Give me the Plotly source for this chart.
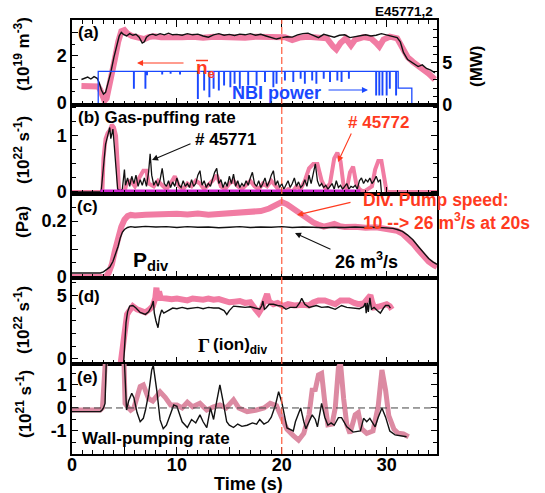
import plotly.graph_objects as go

W, H = 545, 493

# ---------------- (a) line-averaged density (1e19 m^-3) and NBI power (MW) ----------------
ne_45772 = [(0.9, 0.72), (1.3, 0.70), (1.7, 0.74), (2.1, 0.72), (2.5, 0.70), (2.7, 0.55), (2.9, 0.25),
            (3.1, 0.10), (3.3, 0.20), (3.5, 0.60), (3.8, 1.10), (4.1, 1.90), (4.4, 2.60), (4.7, 3.05),
            (5.0, 3.10), (5.3, 2.95), (5.7, 2.85), (6.1, 2.82), (6.5, 2.78), (6.9, 2.72), (7.3, 2.80),
            (7.8, 2.84), (8.5, 2.80), (9.5, 2.83), (10.5, 2.80), (11.5, 2.82), (12.5, 2.78), (13.5, 2.82),
            (14.5, 2.80), (15.5, 2.82), (16.5, 2.78), (17.5, 2.82), (18.5, 2.80), (19.5, 2.78),
            (20.3, 2.80), (21.0, 2.68), (21.7, 2.78), (22.5, 2.82), (23.5, 2.80), (24.3, 2.75),
            (24.9, 2.40), (25.2, 2.28), (25.6, 2.55), (26.1, 2.75), (26.6, 2.45), (27.0, 2.70),
            (27.8, 2.80), (28.5, 2.75), (29.0, 2.55), (29.3, 2.40), (29.7, 2.70), (30.3, 2.82),
            (31.0, 2.75), (31.5, 2.40), (32.0, 1.95), (32.5, 1.75), (33.0, 1.60), (33.5, 1.45),
            (34.0, 1.25), (34.6, 1.00)]
ne_45771 = [(0.9, 1.00), (1.2, 1.05), (1.5, 1.10), (1.8, 1.02), (2.1, 1.12), (2.4, 1.05), (2.6, 0.85),
            (2.8, 0.55), (3.0, 0.38), (3.2, 0.45), (3.4, 0.75), (3.7, 1.30), (4.0, 1.95), (4.3, 2.55),
            (4.5, 2.85), (4.7, 3.00), (4.9, 2.92), (5.2, 2.85), (5.5, 2.95), (5.8, 2.88), (6.1, 2.92),
            (6.4, 2.80), (6.7, 2.55), (6.9, 2.60), (7.1, 2.80), (7.4, 2.90), (7.7, 2.93), (8.0, 2.88),
            (8.4, 2.95), (8.8, 2.90), (9.2, 2.97), (9.6, 2.90), (10.0, 2.92), (10.5, 2.88), (11.0, 2.95),
            (11.5, 2.90), (12.0, 2.93), (12.5, 2.85), (13.0, 2.80), (13.5, 2.90), (14.0, 2.95),
            (14.5, 2.88), (15.0, 2.92), (15.5, 2.87), (16.0, 2.93), (16.5, 2.90), (17.0, 2.95),
            (17.5, 2.88), (18.0, 2.92), (18.5, 2.85), (19.0, 2.80), (19.5, 2.72), (20.0, 2.78),
            (20.5, 2.82), (21.0, 2.80), (21.5, 2.90), (22.0, 2.95), (22.5, 2.97), (23.0, 2.88),
            (23.5, 2.78), (24.0, 2.92), (24.5, 2.85), (25.0, 2.80), (25.5, 2.88), (26.0, 2.90),
            (26.5, 2.78), (27.0, 2.82), (27.5, 2.88), (28.0, 2.90), (28.5, 2.85), (29.0, 2.88),
            (29.5, 2.95), (30.0, 2.90), (30.5, 2.85), (31.0, 2.78), (31.3, 2.60), (31.6, 2.15),
            (32.0, 1.85), (32.5, 1.70), (33.0, 1.55), (33.4, 1.62), (33.8, 1.47), (34.2, 1.40),
            (34.6, 1.28)]

# NBI: full power, reduced power after the step, and short dropouts (time, MW)
nbi_full = 4.0
nbi_reduced = 2.0
nbi_on_t, nbi_step_t, nbi_off_t = 2.5, 31.1, 32.4
nbi_dropouts = [(5.9, 2.0), (7.0, 2.0), (7.15, 3.6), (8.6, 3.7), (9.4, 3.8), (10.3, 3.7),
                (12.0, 0.8), (12.6, 1.8), (13.1, 1.0), (13.5, 2.0), (14.0, 1.8), (14.5, 2.4),
                (15.1, 2.2), (15.5, 2.6), (16.0, 2.0), (16.8, 2.4), (17.6, 2.4), (18.4, 2.8),
                (19.2, 2.2), (19.5, 2.6), (20.3, 3.0), (21.1, 2.8), (21.8, 3.2), (22.2, 2.6),
                (22.9, 3.0), (23.3, 2.6), (24.0, 3.2), (24.6, 2.8), (25.3, 3.0), (25.7, 2.8),
                (26.4, 3.2), (29.0, 1.2), (29.3, 1.2), (29.6, 1.2), (30.0, 1.2), (30.3, 2.0),
                (30.9, 1.2)]

# ---------------- (b) gas-puffing rate (1e22 s^-1) ----------------
gas_45771 = [(0.0, 0.0), (2.7, 0.0), (2.8, 0.05), (3.0, 0.50), (3.2, 0.85), (3.4, 1.00), (3.6, 1.15),
             (3.7, 0.95), (3.8, 1.05), (3.9, 1.12), (4.0, 0.90), (4.2, 0.40), (4.35, 0.05), (4.6, 0.02),
             (4.8, 0.05), (5.0, 0.40), (5.1, 0.12), (5.3, 0.25), (5.5, 0.10), (5.7, 0.28), (5.9, 0.15),
             (6.1, 0.30), (6.3, 0.10), (6.5, 0.22), (6.7, 0.12), (6.9, 0.25), (7.1, 0.10), (7.3, 0.35),
             (7.45, 0.68), (7.6, 0.30), (7.8, 0.12), (8.0, 0.20), (8.2, 0.10), (8.4, 0.22), (8.6, 0.42),
             (8.8, 0.15), (9.0, 0.10), (9.2, 0.20), (9.4, 0.08), (9.6, 0.18), (9.8, 0.10), (10.0, 0.25),
             (10.2, 0.12), (10.4, 0.08), (10.6, 0.20), (10.8, 0.10), (11.0, 0.15), (11.2, 0.08),
             (11.4, 0.22), (11.6, 0.10), (11.8, 0.15), (12.0, 0.30), (12.2, 0.38), (12.4, 0.12),
             (12.6, 0.20), (12.8, 0.08), (13.0, 0.15), (13.2, 0.10), (13.4, 0.25), (13.6, 0.35),
             (13.8, 0.42), (14.0, 0.15), (14.2, 0.22), (14.4, 0.08), (14.6, 0.18), (14.8, 0.10),
             (15.0, 0.28), (15.2, 0.15), (15.4, 0.32), (15.6, 0.10), (15.8, 0.20), (16.0, 0.08),
             (16.2, 0.15), (16.4, 0.10), (16.6, 0.20), (16.8, 0.12), (17.0, 0.25), (17.2, 0.35),
             (17.4, 0.15), (17.6, 0.10), (17.8, 0.20), (18.0, 0.08), (18.2, 0.15), (18.4, 0.25),
             (18.6, 0.10), (18.8, 0.18), (19.0, 0.30), (19.2, 0.38), (19.4, 0.12), (19.6, 0.20),
             (19.8, 0.08), (20.0, 0.15), (20.2, 0.05), (20.4, 0.12), (20.6, 0.20), (20.8, 0.08),
             (21.0, 0.15), (21.2, 0.25), (21.4, 0.10), (21.6, 0.18), (21.8, 0.08), (22.0, 0.12),
             (22.2, 0.22), (22.4, 0.10), (22.6, 0.30), (22.8, 0.15), (23.0, 0.35), (23.2, 0.50),
             (23.4, 0.20), (23.6, 0.10), (23.8, 0.15), (24.0, 0.08), (24.2, 0.12), (24.4, 0.05),
             (24.6, 0.10), (24.8, 0.15), (25.0, 0.05), (25.2, 0.20), (25.4, 0.08), (25.6, 0.12),
             (25.8, 0.05), (26.0, 0.10), (26.2, 0.15), (26.4, 0.05), (26.6, 0.10), (26.8, 0.08),
             (27.0, 0.12), (27.2, 0.05), (27.4, 0.20), (27.6, 0.25), (27.8, 0.15), (28.0, 0.22),
             (28.2, 0.18), (28.4, 0.25), (28.6, 0.15), (28.8, 0.20), (29.0, 0.28), (29.2, 0.18),
             (29.4, 0.22), (29.5, 0.0)]
gas_45772 = [(0.0, 0.0), (2.9, 0.0), (3.0, 0.60), (3.2, 0.95), (3.4, 1.05), (3.6, 1.10), (3.8, 1.20),
             (4.0, 1.15), (4.2, 1.00), (4.4, 0.30), (4.5, 0.0), (5.0, 0.0), (5.2, 0.15), (5.6, 0.20),
             (6.0, 0.10), (6.4, 0.25), (6.8, 0.38), (7.1, 0.38), (7.3, 0.15), (7.8, 0.10), (8.2, 0.20),
             (8.6, 0.12), (9.0, 0.05), (9.4, 0.15), (9.8, 0.28), (10.2, 0.10), (10.6, 0.05), (11.0, 0.15),
             (11.4, 0.10), (11.8, 0.20), (12.2, 0.15), (12.6, 0.05), (13.0, 0.12), (13.4, 0.20),
             (13.8, 0.30), (14.2, 0.10), (14.6, 0.05), (15.0, 0.15), (15.4, 0.20), (15.8, 0.10),
             (16.2, 0.05), (16.6, 0.12), (17.0, 0.20), (17.4, 0.10), (17.8, 0.05), (18.2, 0.15),
             (18.6, 0.10), (19.0, 0.20), (19.4, 0.10), (19.8, 0.02), (20.2, 0.0), (20.6, 0.05),
             (21.0, 0.0), (21.4, 0.10), (21.8, 0.05), (22.2, 0.20), (22.6, 0.42), (23.0, 0.50),
             (23.4, 0.50), (23.8, 0.20), (24.2, 0.05), (24.6, 0.15), (25.0, 0.60), (25.3, 0.70),
             (25.6, 0.55), (25.9, 0.10), (26.2, 0.05), (26.5, 0.35), (26.8, 0.45), (27.1, 0.15),
             (27.4, 0.05), (27.8, 0.0), (28.2, 0.05), (28.6, 0.10), (28.9, 0.40), (29.2, 0.55),
             (29.5, 0.55), (29.8, 0.20), (30.0, 0.0), (34.8, 0.0)]
gas_base = [(2.7, 0.02), (27.5, 0.02)]

# ---------------- (c) divertor pressure (Pa) ----------------
pdiv_45772 = [(0.0, 0.0), (3.2, 0.0), (3.5, 0.015), (3.8, 0.045), (4.1, 0.095), (4.4, 0.14), (4.7, 0.18),
              (5.0, 0.205), (5.3, 0.218), (5.6, 0.222), (6.0, 0.22), (7.0, 0.223), (8.0, 0.225),
              (9.0, 0.222), (10.0, 0.226), (11.0, 0.224), (12.0, 0.227), (13.0, 0.223), (14.0, 0.226),
              (15.0, 0.225), (16.0, 0.23), (17.0, 0.233), (18.0, 0.236), (18.8, 0.245), (19.5, 0.258),
              (20.0, 0.268), (20.5, 0.26), (21.0, 0.247), (21.5, 0.232), (22.0, 0.215), (22.5, 0.205),
              (23.0, 0.195), (23.5, 0.187), (24.0, 0.18), (24.5, 0.185), (25.0, 0.19), (25.5, 0.182),
              (26.0, 0.179), (27.0, 0.18), (28.0, 0.176), (29.0, 0.178), (30.0, 0.174), (30.5, 0.172),
              (31.0, 0.165), (31.5, 0.155), (32.0, 0.14), (32.5, 0.12), (33.0, 0.097), (33.5, 0.074),
              (34.0, 0.055), (34.5, 0.042), (34.8, 0.036)]
pdiv_45771 = [(0.0, 0.014), (2.7, 0.014), (3.0, 0.018), (3.3, 0.025), (3.6, 0.035), (3.9, 0.055),
              (4.2, 0.085), (4.4, 0.11), (4.6, 0.14), (4.8, 0.16), (5.0, 0.17), (5.3, 0.177), (5.6, 0.18),
              (6.0, 0.178), (7.0, 0.181), (8.0, 0.179), (9.0, 0.18), (10.0, 0.177), (11.0, 0.18),
              (12.0, 0.178), (13.0, 0.179), (14.0, 0.176), (15.0, 0.178), (16.0, 0.18), (17.0, 0.177),
              (18.0, 0.179), (19.0, 0.178), (20.0, 0.18), (21.0, 0.177), (22.0, 0.179), (23.0, 0.178),
              (24.0, 0.176), (25.0, 0.178), (26.0, 0.177), (27.0, 0.179), (28.0, 0.177), (29.0, 0.178),
              (30.0, 0.176), (30.6, 0.174), (31.0, 0.17), (31.5, 0.163), (32.0, 0.15), (32.5, 0.133),
              (33.0, 0.11), (33.5, 0.088), (34.0, 0.066), (34.4, 0.054), (34.8, 0.045)]

# ---------------- (d) divertor ion flux (1e22 s^-1) ----------------
gion_45772 = [(4.6, -0.6), (4.85, 1.0), (5.06, 2.85), (5.25, 3.5), (5.4, 3.7), (5.8, 4.15), (6.2, 3.9),
              (6.6, 3.8), (7.0, 3.65), (7.4, 3.9), (7.7, 4.15), (7.95, 4.8), (8.05, 5.6), (8.15, 4.6),
              (8.3, 5.3), (8.45, 4.8), (8.8, 4.75), (9.5, 4.7), (10.0, 4.75), (10.5, 4.65), (11.0, 4.6),
              (11.5, 4.75), (12.0, 4.7), (12.5, 4.65), (13.0, 4.75), (13.5, 4.65), (14.0, 4.7),
              (14.5, 4.55), (15.0, 4.45), (15.5, 4.5), (16.0, 4.55), (16.5, 4.4), (17.0, 4.45),
              (17.5, 3.9), (17.8, 3.6), (18.1, 4.0), (18.4, 4.6), (18.6, 5.1), (18.8, 4.5), (19.2, 4.3),
              (19.6, 4.4), (20.1, 4.15), (20.6, 4.3), (21.2, 4.2), (22.0, 4.25), (22.6, 4.2), (23.0, 4.45),
              (23.5, 4.6), (24.1, 4.6), (24.6, 4.45), (25.1, 4.3), (25.6, 4.6), (26.0, 4.55), (26.4, 4.6),
              (26.9, 4.4), (27.3, 4.3), (27.8, 4.35), (28.1, 4.6), (28.3, 4.8), (28.45, 5.0), (28.6, 4.5),
              (28.8, 4.05), (29.2, 4.1), (29.6, 4.2), (30.0, 4.3), (30.3, 4.15), (30.5, 3.9)]
gion_45771 = [(4.9, -0.6), (5.0, 1.0), (5.15, 2.85), (5.3, 3.7), (5.5, 4.15), (5.8, 4.2), (6.1, 4.0),
              (6.5, 3.65), (7.0, 3.5), (7.3, 3.7), (7.6, 4.15), (7.75, 4.55), (7.85, 3.6), (8.0, 3.0),
              (8.2, 2.45), (8.35, 3.3), (8.55, 3.85), (8.75, 3.6), (9.0, 3.7), (9.3, 3.85), (9.6, 4.0),
              (10.0, 3.95), (10.5, 4.05), (11.0, 3.95), (11.5, 4.0), (12.0, 4.05), (12.5, 3.95),
              (13.0, 4.05), (13.5, 4.0), (14.0, 4.0), (14.5, 3.8), (14.76, 3.5), (15.0, 3.8), (15.4, 4.15),
              (16.0, 4.1), (16.5, 4.05), (17.0, 4.1), (17.5, 4.0), (17.9, 3.9), (18.1, 4.2), (18.2, 4.55),
              (18.35, 3.9), (18.5, 4.0), (18.8, 4.3), (19.2, 4.3), (19.6, 4.2), (20.0, 4.15), (20.4, 3.9),
              (20.8, 4.05), (21.4, 4.05), (21.7, 4.4), (21.9, 4.76), (22.2, 4.3), (22.6, 4.05),
              (23.0, 4.15), (23.3, 4.2), (23.8, 4.05), (24.4, 4.1), (25.1, 3.9), (25.7, 4.2), (26.2, 4.05),
              (26.8, 4.0), (27.4, 3.95), (27.8, 4.1), (27.96, 4.4), (28.05, 3.6), (28.15, 4.4),
              (28.25, 3.7), (28.4, 4.8), (28.55, 3.9), (28.8, 4.05), (29.1, 3.8), (29.4, 3.6), (29.7, 4.0),
              (29.9, 4.2), (30.2, 4.2), (30.35, 4.0)]

# ---------------- (e) wall-pumping rate (1e21 s^-1) ----------------
wall_45772 = [(0.0, -0.09), (2.7, -0.09), (2.9, 0.0), (3.1, 1.0), (3.25, 2.5), (4.9, 3.0), (5.06, 0.2),
              (5.3, 0.05), (5.6, -0.1), (5.9, 0.0), (6.2, 0.5), (6.5, 0.93), (6.8, 1.0), (7.0, 0.75),
              (7.3, 0.4), (7.7, 0.3), (8.1, 0.55), (8.4, 0.7), (8.9, 0.45), (9.4, 0.13), (10.0, 0.13),
              (10.5, 0.0), (11.0, 0.25), (11.5, 0.05), (12.2, 0.2), (12.85, -0.09), (13.5, 0.05),
              (14.1, 0.13), (14.7, 0.0), (15.4, 0.35), (15.9, 0.0), (16.7, -0.16), (17.5, -0.1),
              (18.3, 0.0), (18.9, 0.2), (19.5, 0.1), (20.0, -0.42), (20.5, -0.93), (21.1, -1.2),
              (21.6, -1.4), (22.1, -1.1), (22.6, -0.3), (22.9, 0.78), (23.2, 0.8), (23.5, 1.43),
              (23.8, 1.5), (24.1, 0.25), (24.4, -0.73), (24.8, -0.7), (25.1, 0.0), (25.4, 1.74),
              (25.6, 1.95), (25.9, 0.4), (26.2, -0.73), (26.5, -1.1), (27.0, -0.3), (27.3, -0.2),
              (27.6, -0.9), (28.1, -1.1), (28.7, -1.0), (29.2, 0.1), (29.55, 1.65), (29.9, 0.76),
              (30.2, -0.33), (30.7, -0.93), (31.1, -1.1), (31.6, -1.13), (32.1, -1.25)]
wall_45771 = [(0.0, -0.16), (2.7, -0.16), (2.85, -0.1), (3.0, 0.0), (3.15, 0.2), (3.3, 2.5), (4.9, 3.0),
              (5.06, 1.36), (5.2, -0.09), (5.4, 0.3), (5.7, 0.64), (5.9, 0.45), (6.2, -0.2), (6.5, -0.6),
              (6.8, -0.45), (7.0, -0.1), (7.3, 0.6), (7.6, 1.65), (7.75, 1.85), (8.1, 0.7), (8.4, -0.52),
              (8.7, -0.9), (9.0, -0.75), (9.2, -0.5), (9.7, 0.13), (10.0, 0.07), (10.5, -0.6),
              (11.0, -0.85), (11.4, -0.5), (11.8, -0.65), (12.2, -0.3), (12.5, -0.6), (12.85, -0.85),
              (13.2, 0.0), (13.5, -0.5), (13.8, 0.3), (14.1, 1.0), (14.4, 0.3), (14.75, -0.6),
              (15.0, -0.75), (15.4, -0.85), (15.8, -0.7), (16.2, -0.8), (16.7, -0.75), (17.2, -0.65),
              (17.6, -0.7), (17.9, -0.5), (18.3, -0.7), (18.7, -0.6), (19.0, -0.4), (19.4, 0.13),
              (19.7, 0.71), (20.0, 0.25), (20.5, -0.87), (21.1, -1.0), (21.3, -0.6), (21.8, 0.0),
              (22.1, -0.6), (22.3, -0.9), (22.6, -0.6), (22.9, -0.3), (23.2, -0.5), (23.4, -0.82),
              (23.8, 0.2), (24.1, -0.4), (24.4, -0.75), (24.7, -0.65), (25.0, -0.75), (25.4, -0.42),
              (25.7, -0.42), (26.2, -0.82), (26.8, -1.05), (27.5, -1.0), (27.8, -0.45), (28.1, -0.6),
              (28.4, -0.45), (28.9, -0.82), (29.2, -0.4), (29.55, 0.0), (29.9, -0.4), (30.3, -1.0),
              (30.8, -1.17), (31.4, -1.2), (31.9, -1.25)]

pump_switch_t = 20.0
t_range = [0, 34.8]

PINK = "#f17ca3"
PINK_E = "#dc8aa2"
BLACK = "#111111"
BLUE = "#1a48ff"
RED = "#ff3b1f"
MAGENTA = "#cc22cc"
FONT = "Liberation Sans, Arial, sans-serif"


def xy(pairs):
    t, v = zip(*pairs)
    return list(t), list(v)


def nbi_trace():
    t, p = [0.0, nbi_on_t, nbi_on_t], [0.0, 0.0, nbi_full]
    half = 0.03
    for td, lv in nbi_dropouts:
        base = nbi_full if td < nbi_step_t else nbi_reduced
        t += [td - half, td - half, td + half, td + half]
        p += [base, lv, lv, base]
    t += [nbi_step_t, nbi_step_t, nbi_off_t, nbi_off_t, t_range[1]]
    p += [nbi_full, nbi_reduced, nbi_reduced, 0.0, 0.0]
    return t, p


fig = go.Figure()


def line(pairs, color, width, xa, ya):
    t, v = xy(pairs)
    fig.add_trace(go.Scatter(x=t, y=v, mode="lines", xaxis=xa, yaxis=ya,
                             line=dict(color=color, width=width), hoverinfo="skip"))


# (a)
line(ne_45772, PINK, 6, "x", "y")
line(ne_45771, BLACK, 1.4, "x", "y")
nt, npow = nbi_trace()
fig.add_trace(go.Scatter(x=nt, y=npow, mode="lines", xaxis="x", yaxis="y2",
                         line=dict(color=BLUE, width=1.3), hoverinfo="skip"))
# (b)
line(gas_45772, PINK, 4, "x2", "y3")
line(gas_45771, BLACK, 1.3, "x2", "y3")
line(gas_base, MAGENTA, 2.5, "x2", "y3")
# (c)
line(pdiv_45772, PINK, 6, "x3", "y4")
line(pdiv_45771, BLACK, 1.4, "x3", "y4")
# (d)
line(gion_45772, PINK, 6, "x4", "y5")
line(gion_45771, BLACK, 1.4, "x4", "y5")
# (e)
line(wall_45772, PINK_E, 5, "x5", "y6")
line(wall_45771, BLACK, 1.4, "x5", "y6")


def px(x):
    return x / W


def py(y):
    return 1 - y / H


# panel extents in pixels (top, bottom)
panels = {"a": (20, 105), "b": (105, 194), "c": (194, 277.5), "d": (277.5, 364), "e": (364, 454)}
xdom = [px(72), px(437)]

tick_font = dict(family=FONT, size=18, color="black", weight="bold")
axis_common = dict(showline=True, linecolor="black", linewidth=1.5, ticks="inside",
                   tickcolor="black", tickwidth=1.2, showgrid=False, zeroline=False,
                   tickfont=tick_font, automargin=False)

xcommon = dict(axis_common, range=t_range, domain=xdom, tickmode="array",
               tickvals=[0, 5, 10, 15, 20, 25, 30], ticktext=["0", "", "10", "", "20", "", "30"],
               ticklen=7, minor=dict(dtick=1, tick0=0, ticklen=4, ticks="inside", tickcolor="black"))

layout = dict(
    template="none",
    width=W, height=H, margin=dict(l=0, r=0, t=0, b=0, autoexpand=False),
    paper_bgcolor="white", plot_bgcolor="white", showlegend=False,
    font=dict(family=FONT, size=17, color="black", weight="bold"),
)
xnames = ["xaxis", "xaxis2", "xaxis3", "xaxis4", "xaxis5"]
yanchors = ["y", "y3", "y4", "y5", "y6"]
for i, key in enumerate("abcde"):
    ax = dict(xcommon, anchor=yanchors[i], mirror="ticks" if key == "a" else True,
              showticklabels=(key == "e"))
    if key == "e":
        ax["ticklabelstandoff"] = -6
    layout[xnames[i]] = ax

minor_y = dict(ticklen=4, ticks="inside", tickcolor="black")
layout["yaxis"] = dict(axis_common, domain=[py(105), py(20)], range=[-0.085, 3.53], anchor="x",
                       tickmode="array", tickvals=[0, 1, 2, 3], ticktext=["0", "", "2", ""], ticklen=6,
                       minor=dict(minor_y, dtick=0.5, ticklen=3))
layout["yaxis2"] = dict(axis_common, domain=[py(105), py(20)], range=[0, 10.1], anchor="x",
                        overlaying="y", side="right", tickmode="array", tickvals=[0, 5],
                        ticktext=["0", "5"], ticklen=6, minor=dict(minor_y, dtick=1))
layout["yaxis3"] = dict(axis_common, domain=[py(194), py(105)], range=[-0.036, 1.55], anchor="x2",
                        mirror="ticks", tickmode="array", tickvals=[0, 1], ticktext=["0", "1"],
                        ticklen=6, minor=dict(minor_y, dtick=0.25))
layout["yaxis4"] = dict(axis_common, domain=[py(277.5), py(194)], range=[-0.002, 0.297], anchor="x3",
                        mirror=True, tickmode="array", tickvals=[0, 0.1, 0.2], ticktext=["0", "", "0.2"],
                        ticklen=6, minor=dict(minor_y, dtick=0.05))
layout["yaxis5"] = dict(axis_common, domain=[py(364), py(277.5)], range=[-0.4, 6.4], anchor="x4",
                        mirror=True, tickmode="array", tickvals=[0, 5], ticktext=["0", "5"],
                        ticklen=6, minor=dict(minor_y, dtick=1))
layout["yaxis6"] = dict(axis_common, domain=[py(454), py(364)], range=[-2.0, 1.91], anchor="x5",
                        mirror="ticks", tickmode="array", tickvals=[-1, 0, 1], ticktext=["-1", "0", "1"],
                        ticklen=6, minor=dict(minor_y, dtick=0.5))
fig.update_layout(**layout)

# pump-speed switch and zero line of the wall-pumping panel
fig.add_shape(type="line", xref="x", yref="paper", x0=pump_switch_t, x1=pump_switch_t,
              y0=py(454), y1=py(20), line=dict(color="#ff5a3c", width=1.2, dash="7px,3px"))
fig.add_shape(type="line", xref="x5", yref="y6", x0=t_range[0], x1=t_range[1], y0=0, y1=0,
              line=dict(color="#444444", width=1, dash="7px,4px"))
# overline of the density symbol
fig.add_shape(type="line", xref="paper", yref="paper", x0=px(196), x1=px(208), y0=py(60.5), y1=py(60.5),
              line=dict(color=RED, width=1.5))


def text(s, x, y, size=17, color="black", anchor="left", angle=0, family=FONT, align="left"):
    fig.add_annotation(text=s, x=px(x), y=py(y), xref="paper", yref="paper", showarrow=False,
                       xanchor=anchor, yanchor="middle", textangle=angle, align=align, borderpad=0,
                       font=dict(family=family, size=size, color=color, weight="bold"))


def arrow(x_tail, y_tail, x_head, y_head, color):
    fig.add_annotation(text="", x=px(x_head), y=py(y_head), xref="paper", yref="paper",
                       ax=x_tail - x_head, ay=y_tail - y_head, showarrow=True,
                       arrowhead=2, arrowsize=1.1, arrowwidth=1.1, arrowcolor=color,
                       standoff=0, startstandoff=0)


# axis titles
text("(10<sup>19</sup> m<sup>-3</sup>)", 22, 54, anchor="center", angle=-90)
text("(MW)", 476, 66, anchor="center", angle=-90)
text("(10<sup>22</sup> s<sup>-1</sup>)", 22, 150, anchor="center", angle=-90)
text("(Pa)", 22, 222, anchor="center", angle=-90)
text("(10<sup>22</sup> s<sup>-1</sup>)", 22, 320, anchor="center", angle=-90)
text("(10<sup>21</sup> s<sup>-1</sup>)", 24, 404, anchor="center", angle=-90)
text("Time (s)", 248, 484, size=18, anchor="center")

# panel labels and notes
text("E45771,2", 434, 12, size=13.5, anchor="right")
text("(a)", 77, 33)
text("(b) Gas-puffing rate", 77, 118)
text("(c)", 76, 206)
text("(d)", 77, 296)
text("(e)", 76, 377)
text("n<sub>e</sub>", 195, 69, size=19, color=RED)
arrow(185, 63, 137, 63, RED)
text("NBI power", 231, 93, size=18, color=BLUE)
arrow(327, 90, 368, 90, BLUE)
text("# 45771", 194, 139)
arrow(192, 143, 152, 160, BLACK)
text("# 45772", 347, 123, color=RED)
arrow(352, 132, 338, 162, RED)
text("Div. Pump speed:<br>10 --> 26 m<sup>3</sup>/s at 20s", 362, 211, size=17.5, color=RED)
arrow(352, 202, 297, 215, RED)
text("P<sub>div</sub>", 132, 261, size=21)
text("26 m<sup>3</sup>/s", 334, 260, size=18)
arrow(332, 250, 295, 233, BLACK)
text("\u0393", 197, 345, size=19, family="Liberation Serif, Times New Roman, serif")
text("(ion)<sub>div</sub>", 212, 346, size=17)
text("Wall-pumping rate", 81, 438)

fig.write_html("out.html")
